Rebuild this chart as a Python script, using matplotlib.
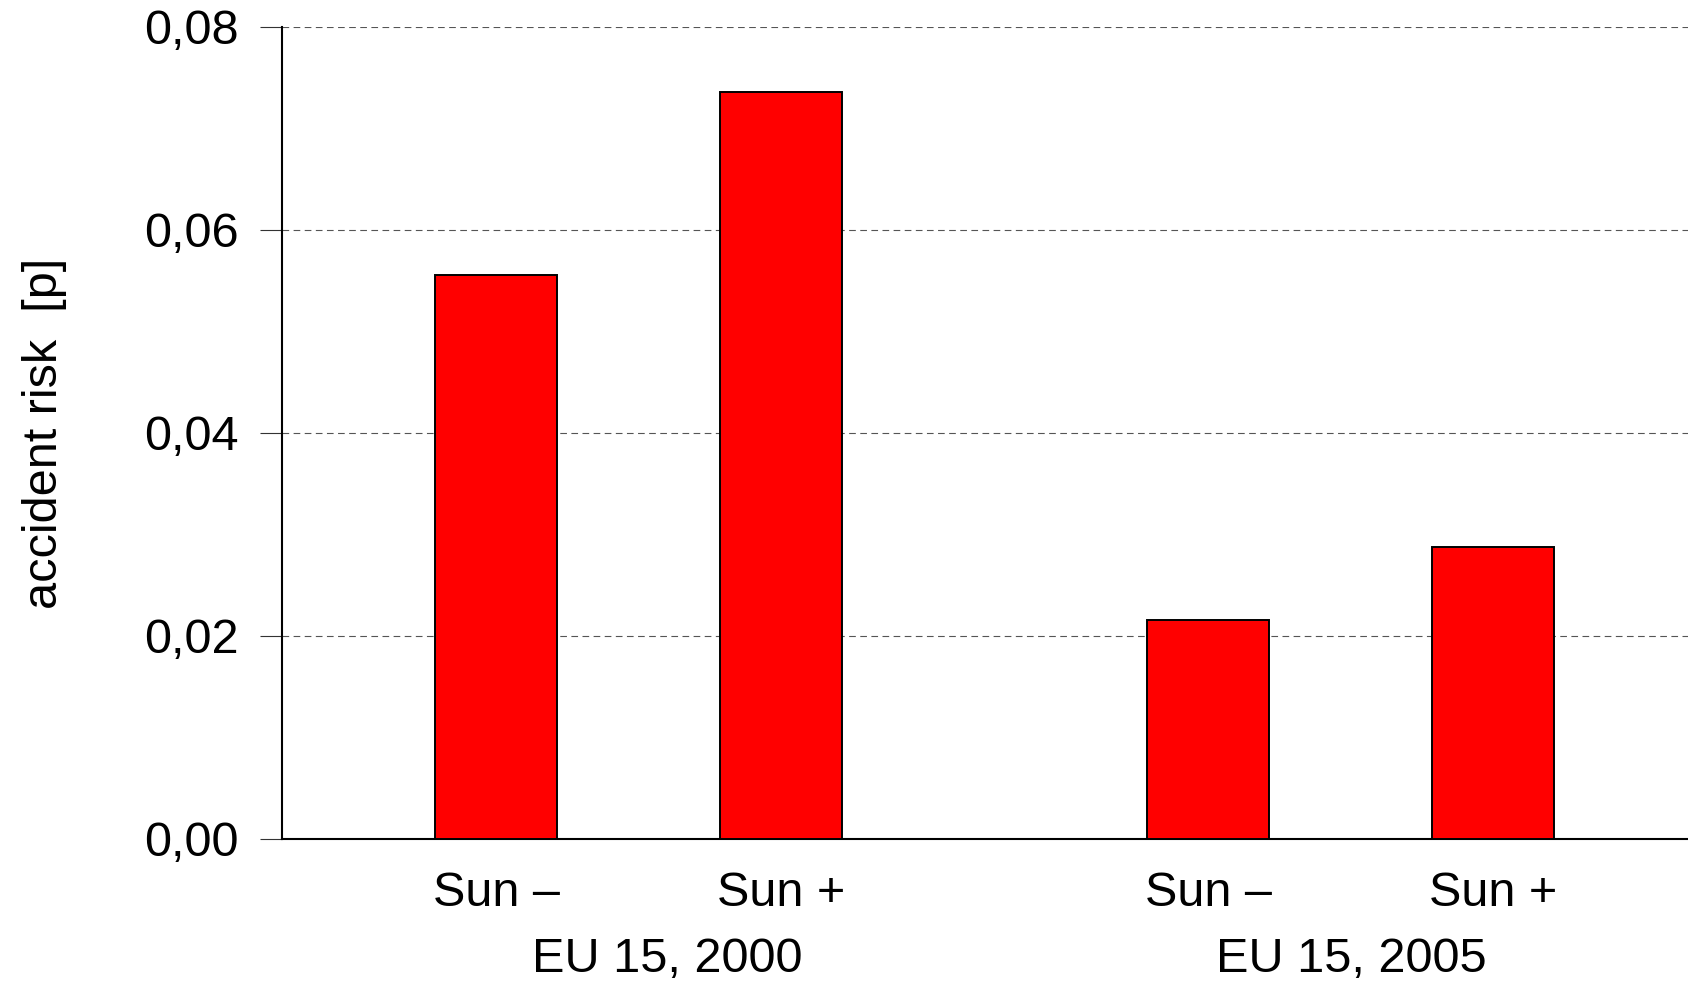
import numpy as np
import matplotlib
matplotlib.use("Agg")
import matplotlib.pyplot as plt
from matplotlib.ticker import FuncFormatter

# ============================================================
# DATA
# ============================================================

bar_labels = ["Sun \u2013", "Sun +", "Sun \u2013", "Sun +"]
bar_positions = [0.0, 1.0, 2.5, 3.5]
risk_values = [0.0556, 0.0736, 0.0216, 0.0288]

group_labels = ["EU 15, 2000", "EU 15, 2005"]
group_positions = [0.6, 3.0]

y_ticks = [0.00, 0.02, 0.04, 0.06, 0.08]

# ============================================================
# PLOT
# ============================================================

plt.rcParams["font.family"] = ["Liberation Sans", "DejaVu Sans"]

fig = plt.figure(figsize=(16.88, 9.81), dpi=100)
ax = fig.add_axes([0.1671, 0.1448, 0.8329, 0.8277])

ax.bar(bar_positions, risk_values, width=0.428, color="#ff0000",
       edgecolor="black", linewidth=1.4, zorder=3)

ax.set_xlim(-0.751, 4.183)
ax.set_ylim(0, 0.08)
ax.set_yticks(y_ticks)
ax.yaxis.set_major_formatter(FuncFormatter(lambda v, p: f"{v:.2f}".replace(".", ",")))

ax.set_xticks(bar_positions)
ax.set_xticklabels(bar_labels)

ax.yaxis.grid(True, linestyle=(0, (6, 4)), color="#555555", linewidth=0.8, zorder=0)
ax.set_axisbelow(True)

ax.spines["top"].set_visible(False)
ax.spines["right"].set_visible(False)
ax.spines["left"].set_linewidth(1.5)
ax.spines["bottom"].set_linewidth(1.5)

ax.tick_params(axis="y", direction="out", length=16, width=0.8, color="#333333",
               pad=15, labelsize=35)
ax.tick_params(axis="x", length=0, pad=23, labelsize=35)

for lbl, pos in zip(group_labels, group_positions):
    ax.text(pos, -0.148, lbl, transform=ax.get_xaxis_transform(),
            ha="center", va="center", fontsize=35)

ax.set_ylabel("accident risk  [p]", fontsize=35)
ax.yaxis.set_label_coords(-0.153, 0.5)

fig.savefig("out.png", dpi=100)
